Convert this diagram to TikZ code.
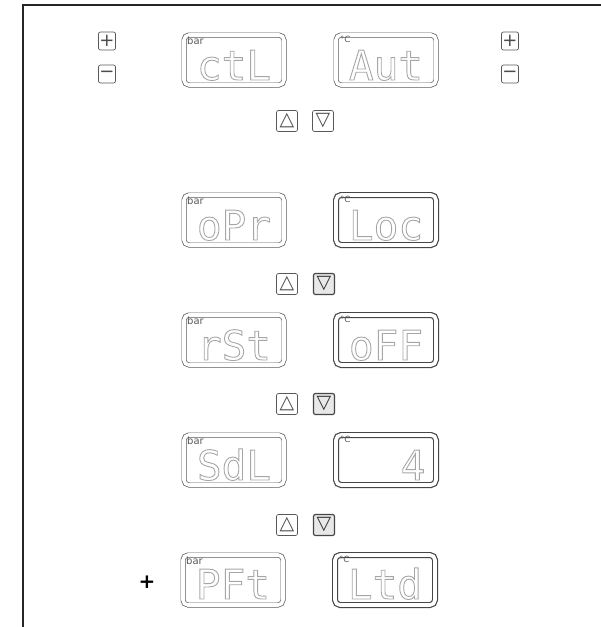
\documentclass[tikz,border=0pt]{standalone}
\usepackage{fontspec}
\newfontfamily\segfont{DejaVu Sans Mono}
\newfontfamily\dvfont{DejaVu Sans}
\newcommand\hollowtext[1]{\special{pdf:literal direct 1 Tr 0.9 w}#1\special{pdf:literal direct 0 Tr}}
\begin{document}
\begin{tikzpicture}[x=1pt,y=-1pt,
  disp/.style={draw=gray!70!black, line width=0.7pt, double=white, double distance=3.6pt,
    rounded corners=5pt, minimum width=100pt, minimum height=50pt, inner sep=0pt},
  dispb/.style={disp, draw=gray!55!black, line width=1.2pt},
  seg/.style={anchor=base, text=gray!70, inner sep=0pt,
    font=\segfont\fontsize{41}{41}\selectfont},
  unitlbl/.style={anchor=north west, text=gray!70!black, inner sep=0pt,
    font=\dvfont\fontsize{10}{10}\selectfont},
  degl/.style={anchor=north west, text=gray!70!black, inner sep=0pt,
    font=\dvfont\fontsize{8.5}{8.5}\selectfont},
  keybox/.style={draw=gray!70!black, rounded corners=2pt, minimum width=17pt,
    minimum height=18pt, line width=0.7pt, inner sep=0pt, text=gray!60!black,
    font=\dvfont\fontsize{18}{18}\selectfont},
  arrbox/.style={keybox, minimum width=21pt, minimum height=21pt,
    font=\dvfont\fontsize{19}{19}\selectfont},
  arrpress/.style={arrbox, fill=gray!18, draw=gray!55!black, line width=1.2pt, text=gray!40!black}
]
\useasboundingbox (0,0) rectangle (601,627);
% frame
\draw[line width=1.6pt, draw=black!85] (601,5) -- (23,5) -- (23,627);

% +/- keys
\node[keybox] (lplus)  at (107,41) {+};
\node[keybox] (lminus) at (107,74) {−};
\node[keybox] (rplus)  at (510,41) {+};
\node[keybox] (rminus) at (510,74) {−};

% row 1
\node[disp]  (dl1) at (234,60) {};
\node[disp]  (dr1) at (386,60) {};
\node[seg]   (tl1) at (234,80) {\hollowtext{ctL}};
\node[seg]   (tr1) at (386,80) {\hollowtext{Aut}};
\node[unitlbl] (ul1) at (187,37) {bar};
\node[degl]  (ur1) at (340,36) {°C};
\node[arrbox] (up1) at (287,121) {△};
\node[arrbox] (dn1) at (323,121) {▽};

% row 2
\node[disp]  (dl2) at (234,220) {};
\node[dispb] (dr2) at (386,220) {};
\node[seg]   (tl2) at (234,240) {\hollowtext{oPr}};
\node[seg]   (tr2) at (386,240) {\hollowtext{Loc}};
\node[unitlbl] (ul2) at (187,197) {bar};
\node[degl]  (ur2) at (340,196) {°C};
\node[arrbox]   (up2) at (287,284) {△};
\node[arrpress] (dn2) at (324,284) {▽};

% row 3
\node[disp]  (dl3) at (234,340) {};
\node[dispb] (dr3) at (386,340) {};
\node[seg]   (tl3) at (234,360) {\hollowtext{rSt}};
\node[seg]   (tr3) at (386,360) {\hollowtext{oFF}};
\node[unitlbl] (ul3) at (187,317) {bar};
\node[degl]  (ur3) at (340,316) {°C};
\node[arrbox]   (up3) at (287,404) {△};
\node[arrpress] (dn3) at (324,404) {▽};

% row 4
\node[disp]  (dl4) at (234,460) {};
\node[dispb] (dr4) at (386,460) {};
\node[seg]   (tl4) at (234,480) {\hollowtext{SdL}};
\node[seg]   (tr4) at (413,480) {\hollowtext{4}};
\node[unitlbl] (ul4) at (187,437) {bar};
\node[degl]  (ur4) at (340,436) {°C};
\node[arrbox]   (up4) at (287,525) {△};
\node[arrpress] (dn4) at (324,525) {▽};

% row 5
\node[disp]  (dl5) at (233,580) {};
\node[dispb] (dr5) at (385,580) {};
\node[seg]   (tl5) at (233,599) {\hollowtext{PFt}};
\node[seg]   (tr5) at (385,599) {\hollowtext{Ltd}};
\node[unitlbl] (ul5) at (186,557) {bar};
\node[degl]  (ur5) at (339,556) {°C};
\node[font=\dvfont\bfseries\fontsize{20}{20}\selectfont, inner sep=0pt] (bigplus) at (147,582) {+};
\end{tikzpicture}
\end{document}
